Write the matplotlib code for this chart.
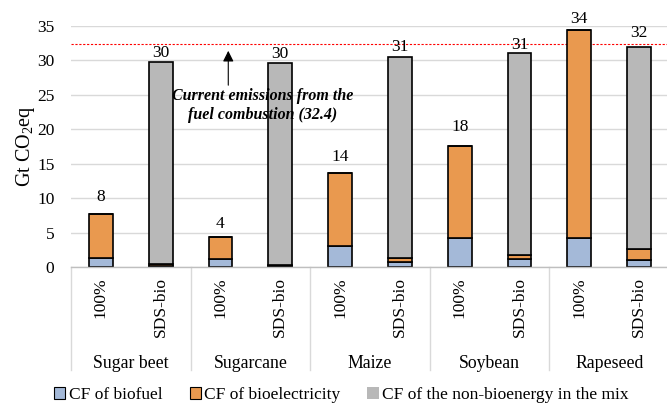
import matplotlib
matplotlib.use("Agg")
import matplotlib.pyplot as plt
from matplotlib.patches import Rectangle
from matplotlib.lines import Line2D

plt.rcParams['font.family'] = ['Liberation Serif', 'DejaVu Serif']
plt.rcParams['mathtext.fontset'] = 'custom'
plt.rcParams['mathtext.rm'] = 'Liberation Serif'

crops = ["Sugar beet", "Sugarcane", "Maize", "Soybean", "Rapeseed"]
scenarios = ["100%", "SDS-bio"]
# order: crop1-100%, crop1-SDS, crop2-100%, ...
biofuel = [1.35, 0.2, 1.1, 0.15, 3.05, 0.68, 4.25, 1.1, 4.17, 1.0]
bioelec = [6.35, 0.25, 3.2, 0.1, 10.6, 0.58, 13.35, 0.64, 30.2, 1.66]
nonbio = [0.0, 29.35, 0.0, 29.35, 0.0, 29.24, 0.0, 29.36, 0.0, 29.24]
totals_lbl = ["8", "30", "4", "30", "14", "31", "18", "31", "34", "32"]
current_emissions = 32.4

# label offsets above bar tops (points), as placed in the original
lbl_off = [12.5, 6.2, 9.4, 6.8, 11.2, 7.2, 13.7, 5.8, 7.9, 10.4]

c_blue = '#A4B9D8'
c_orange = '#E9994F'
c_gray = '#B8B8B8'

W, H = 667, 403
fig = plt.figure(figsize=(W / 100, H / 100), dpi=100)
ax_l, ax_r, ax_b, ax_t = 71, 669, 267, 26
ax = fig.add_axes([ax_l / W, (H - ax_b) / H, (ax_r - ax_l) / W, (ax_b - ax_t) / H])

x = list(range(len(biofuel)))
bw = 0.4
ax.bar(x, biofuel, bw, color=c_blue, edgecolor='black', linewidth=1.2, zorder=3)
b2 = [a for a in biofuel]
ax.bar(x, bioelec, bw, bottom=b2, color=c_orange, edgecolor='black', linewidth=1.2, zorder=3)
b3 = [a + b for a, b in zip(biofuel, bioelec)]
ax.bar(x, nonbio, bw, bottom=b3, color=c_gray, edgecolor='black', linewidth=1.2, zorder=3)
tops = [a + b + c for a, b, c in zip(biofuel, bioelec, nonbio)]
for xi, t, lbl, off in zip(x, tops, totals_lbl, lbl_off):
    ax.annotate(lbl, (xi, t), xytext=(0, off), textcoords='offset points',
                ha='center', va='center', fontsize=12.5)

ax.set_xlim(-0.5, len(x) - 0.5)
ax.set_ylim(0, 35)
ax.set_yticks([0, 5, 10, 15, 20, 25, 30, 35])
ax.tick_params(axis='y', length=0, labelsize=12.5, pad=12)
ax.set_xticks([])
ax.grid(axis='y', color='#D9D9D9', linewidth=1.0, zorder=0)
for s in ['top', 'right', 'left']:
    ax.spines[s].set_visible(False)
ax.spines['bottom'].set_color('#BFBFBF')
ax.spines['bottom'].set_linewidth(1.0)
ax.spines['bottom'].set_zorder(4)

ax.set_ylabel('Gt CO$_\\mathregular{2}$eq', fontsize=14.5, labelpad=0)

# red dashed line
ax.axhline(current_emissions, color='#FF0000', linestyle=(0, (2, 1.5)), linewidth=0.8, zorder=2)

# annotation
ax.annotate('', xy=(2.13, 31.8), xytext=(2.13, 26.0),
            arrowprops=dict(arrowstyle='-|>', color='black', lw=0.8, mutation_scale=16))
ax.text(2.7, 23.4, 'Current emissions from the\nfuel combustion (32.4)',
        ha='center', va='center', fontsize=11.5, fontweight='bold', fontstyle='italic',
        linespacing=1.25, zorder=5)

# category axis labels
ph = ax_b - ax_t
tr = ax.get_xaxis_transform()
for i, xi in enumerate(x):
    ax.text(xi, -10 / ph, scenarios[i % 2], rotation=90, ha='center', va='top',
            fontsize=12.5, transform=tr)
for g, crop in enumerate(crops):
    ax.text(2 * g + 0.5, -96 / ph, crop, ha='center', va='center', fontsize=12.8, transform=tr)
for k in range(len(crops) + 1):
    ax.add_line(Line2D([2 * k - 0.5, 2 * k - 0.5], [0, -103 / ph], transform=tr,
                       color='#D9D9D9', linewidth=1.0, clip_on=False))

handles = [Rectangle((0, 0), 1, 1, facecolor=c_blue, edgecolor='black', linewidth=0.8),
           Rectangle((0, 0), 1, 1, facecolor=c_orange, edgecolor='black', linewidth=0.8),
           Rectangle((0, 0), 1, 1, facecolor=c_gray, edgecolor='none')]
fig.legend(handles, ['CF of biofuel', 'CF of bioelectricity', 'CF of the non-bioenergy in the mix'],
           loc='center', bbox_to_anchor=(0.512, 1 - 395 / H), ncol=3, frameon=False,
           fontsize=12.5, handlelength=0.65, handleheight=0.65, handletextpad=0.2,
           columnspacing=1.55, borderaxespad=0, borderpad=0)

fig.savefig('out.png', dpi=100)
